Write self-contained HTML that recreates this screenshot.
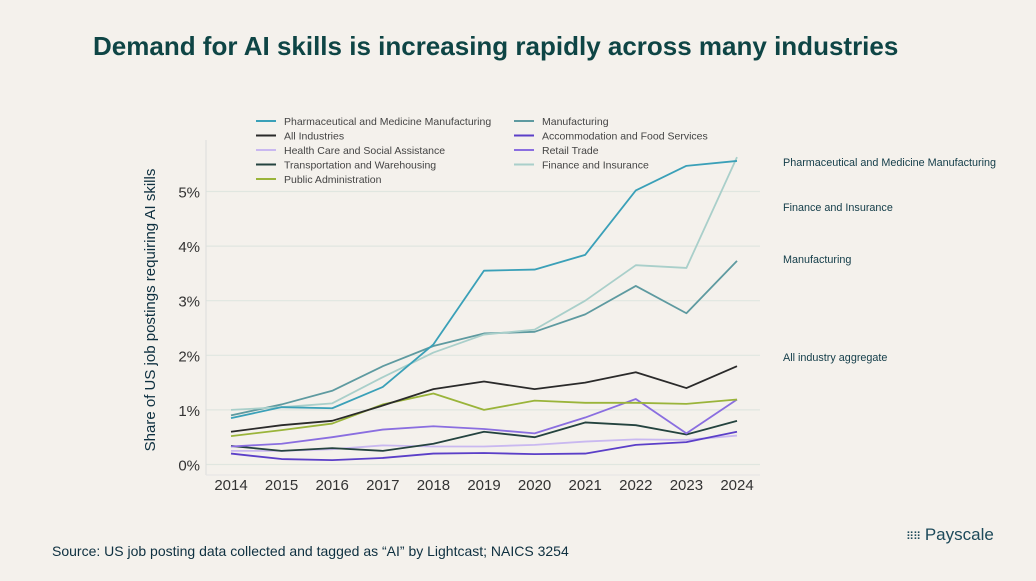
<!DOCTYPE html>
<html><head><meta charset="utf-8"><style>
body{margin:0;width:1036px;height:581px;background:#f4f1ec;font-family:"Liberation Sans",sans-serif;overflow:hidden;position:relative}
.t{position:absolute;white-space:nowrap}
</style></head><body>
<div class="t" style="left:93px;top:31px;font-size:26px;font-weight:bold;color:#0e4545">Demand for AI skills is increasing rapidly across many industries</div>
<svg id="c" width="1036" height="581" style="position:absolute;left:0;top:0"></svg>
<div class="t" style="left:52px;top:543px;font-size:14px;color:#0e3040">Source: US job posting data collected and tagged as “AI” by Lightcast; NAICS 3254</div>
<div class="t" style="left:906px;top:525px;font-size:17px;color:#1d4a5a"><span style="font-size:11px;letter-spacing:-1px">⠿⠿</span> Payscale</div>
<script>
const years=[2014,2015,2016,2017,2018,2019,2020,2021,2022,2023,2024];
const yTicks=[0,1,2,3,4,5];
const pharma=[0.85,1.05,1.03,1.42,2.2,3.55,3.57,3.84,5.02,5.47,5.56];
const manufacturing=[0.9,1.1,1.35,1.8,2.17,2.4,2.43,2.75,3.27,2.77,3.73];
const finance=[1.0,1.05,1.12,1.6,2.05,2.38,2.47,3.0,3.65,3.6,5.63];
const allInd=[0.6,0.72,0.8,1.08,1.38,1.52,1.38,1.5,1.69,1.4,1.8];
const publicAdmin=[0.52,0.63,0.75,1.1,1.3,1.0,1.17,1.13,1.13,1.11,1.19];
const retail=[0.33,0.38,0.5,0.64,0.7,0.65,0.57,0.86,1.2,0.57,1.19];
const transport=[0.34,0.25,0.3,0.25,0.38,0.6,0.5,0.77,0.72,0.55,0.8];
const health=[0.25,0.25,0.28,0.35,0.33,0.33,0.36,0.42,0.46,0.45,0.53];
const accom=[0.2,0.1,0.08,0.12,0.2,0.21,0.19,0.2,0.36,0.41,0.6];
const seriesNames=["Pharmaceutical and Medicine Manufacturing","Manufacturing","All Industries","Accommodation and Food Services","Health Care and Social Assistance","Retail Trade","Transportation and Warehousing","Finance and Insurance","Public Administration"];
const seriesData=[pharma,manufacturing,allInd,accom,health,retail,transport,finance,publicAdmin];
const colors=["#3aa0b8","#5e9aa0","#2a2a2a","#5b3fc8","#c9b8f0","#8a6ee0","#24433f","#a9cfca","#9ab43a"];
const annotations=[["Pharmaceutical and Medicine Manufacturing",162],["Finance and Insurance",207],["Manufacturing",259],["All industry aggregate",357]];
const NS="http://www.w3.org/2000/svg",svg=document.getElementById('c');
const x=i=>231+i*50.6, y=v=>464.5-v*54.6;
function mk(t,a){const e=document.createElementNS(NS,t);for(const k in a)e.setAttribute(k,a[k]);svg.appendChild(e);return e;}
yTicks.forEach(v=>{const g=mk('line',{x1:206,x2:760,y1:y(v),y2:y(v),stroke:'#e0e6e0','stroke-width':1.2});

const t=mk('text',{x:200,y:y(v)+6,'text-anchor':'end','font-size':15,fill:'#333'});t.textContent=v+'%';
});
const ax=mk('line',{x1:206,x2:206,y1:140,y2:475,stroke:'#ddd','stroke-width':1});

const bx=mk('line',{x1:206,x2:760,y1:475,y2:475,stroke:'#e4e4e4','stroke-width':1});

years.forEach((yr,i)=>{const t=mk('text',{x:x(i),y:490,'text-anchor':'middle','font-size':15,fill:'#333'});t.textContent=yr;
});
const yt=mk('text',{transform:'translate(155,310) rotate(-90)','text-anchor':'middle','font-size':15,fill:'#0e3040'});
yt.textContent='Share of US job postings requiring AI skills';

const order=[4,3,6,5,8,2,1,7,0];
order.forEach(s=>{const p=mk('polyline',{points:seriesData[s].map((v,i)=>x(i)+','+y(v)).join(' '),fill:'none',stroke:colors[s],'stroke-width':1.8,'stroke-linejoin':'round'});
});
seriesNames.forEach((n,s)=>{const col=s%2,row=Math.floor(s/2);const lx=col?514:256,ly=121+row*14.5;
const l=mk('line',{x1:lx,x2:lx+20,y1:ly,y2:ly,stroke:colors[s],'stroke-width':2});

const t=mk('text',{x:lx+28,y:ly+4,'font-size':10.5,fill:'#444'});t.textContent=n;
});
annotations.forEach(a=>{const t=mk('text',{x:783,y:a[1]+4,'font-size':10.8,fill:'#123c48'});t.textContent=a[0];
});
</script>
</body></html>
